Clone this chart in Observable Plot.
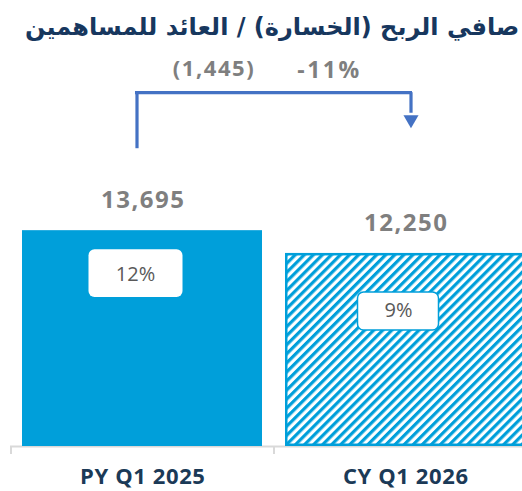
<!DOCTYPE html>
<html>
<head>
<meta charset="utf-8">
<script src="https://cdn.jsdelivr.net/npm/d3@7"></script>
<script src="https://cdn.jsdelivr.net/npm/@observablehq/plot@0.6"></script>
<style>
  html, body { margin: 0; padding: 0; background: #fff; overflow: hidden; }
  #title { height: 50px; box-sizing: border-box; padding-top: 9px; text-align: center;
    font-family: "DejaVu Sans", sans-serif; font-weight: bold; font-size: 24px; color: #17375E;
    direction: rtl; line-height: 36px; padding-left: 22px; white-space: nowrap; }
</style>
</head>
<body>
<div id="title">صافي الربح (الخسارة) / العائد للمساهمين</div>
<div id="chart"></div>
<script>
// ---- data ----
const categories = ["PY Q1 2025", "CY Q1 2026"];
const values = [13695, 12250];
const valueLabels = ["13,695", "12,250"];
const marginLabels = ["12%", "9%"];
const changeLabel = "(1,445)";
const changePctLabel = "-11%";

// ---- layout / style ----
const blue = "#009FDA";
const bracketBlue = "#4472C4";
const W = 522, H = 441, baseY = 396;
const xRange = [10, 536], padIn = 0.0875, padOut = 0.04375;
const step = (xRange[1] - xRange[0]) / (categories.length - padIn + 2 * padOut);
const bw = step * (1 - padIn);
const yMax = 25000;
// annotation positions (data units on y)
const bracketTop = 22450, bracketLeftBottom = 18800, bracketRightEnd = 21050, arrowY = 20750, changeY = 23950;

const rows = categories.map((c, i) => ({cat: c, value: values[i], label: valueLabels[i], pct: marginLabels[i], solid: i === 0}));

const boxStyle = [
  {insetLeft: 66.5, insetRight: 79.5, insetTop: 19, insetBottom: 149, stroke: "none", textDy: 44},
  {insetLeft: 72.5, insetRight: 86.5, insetTop: 39, insetBottom: 116, stroke: blue, textDy: 57}
];

const boxMarks = rows.flatMap((r, i) => [
  Plot.rectY([r], {x: "cat", y1: 0, y2: "value", fill: "white", stroke: boxStyle[i].stroke, strokeWidth: 1.5,
    rx: 6, insetLeft: boxStyle[i].insetLeft, insetRight: boxStyle[i].insetRight,
    insetTop: boxStyle[i].insetTop, insetBottom: boxStyle[i].insetBottom}),
  Plot.text([r], {x: "cat", y: "value", text: "pct", dx: -7, dy: boxStyle[i].textDy,
    fill: "#595959", fontSize: 20, fontFamily: "Open Sans"})
]);

const chart = Plot.plot({
  width: W, height: H,
  marginLeft: 10, marginRight: 0, marginTop: 0, marginBottom: H - baseY,
  x: {type: "band", domain: categories, range: xRange, paddingInner: padIn, paddingOuter: padOut, axis: null},
  y: {domain: [0, yMax], range: [baseY, baseY - yMax * 0.01576], axis: null},
  color: {type: "identity"},
  marks: [
    Plot.ruleY([0], {stroke: "#D9D9D9", strokeWidth: 2}),
    Plot.ruleX(categories, {x: d => d, y1: 0, y2: 0, dx: -step / 2, insetBottom: -8, stroke: "#D9D9D9", strokeWidth: 2}),
    Plot.barY(rows.filter(d => d.solid), {x: "cat", y: "value", fill: blue}),
    Plot.barY(rows.filter(d => !d.solid), {x: "cat", y: "value", fill: "url(#hatch)", stroke: blue, strokeWidth: 2.5, inset: 1.25}),
    ...boxMarks,
    Plot.text(rows, {x: "cat", y: "value", text: "label", dy: -30, dx: 0.75, fill: "#7F7F7F", fontSize: 24, fontWeight: "bold", fontFamily: "Open Sans"}),
    Plot.text(rows, {x: "cat", y: 0, text: "cat", dy: 30.5, dx: 0.3, fill: "#1B3A57", fontSize: 22, fontWeight: "bold", fontFamily: "Open Sans"}),
    // bracket
    Plot.ruleX([categories[0]], {x: d => d, y1: bracketLeftBottom, y2: bracketTop, dx: -5.5, insetTop: -1.5, stroke: bracketBlue, strokeWidth: 3.2}),
    Plot.ruleX([categories[1]], {x: d => d, y1: bracketRightEnd, y2: bracketTop, dx: 5.5, insetTop: -1.5, stroke: bracketBlue, strokeWidth: 3.2}),
    Plot.ruleY([bracketTop], {x1: () => categories[0], x2: () => categories[1], insetLeft: bw / 2 - 7, insetRight: bw / 2 - 7, stroke: bracketBlue, strokeWidth: 3.2}),
    Plot.dot([categories[1]], {x: d => d, y: arrowY, symbol: "triangle", rotate: 180, r: 5.6, dx: 5.5, fill: bracketBlue, stroke: "none"}),
    Plot.text([changeLabel], {x: () => categories[0], y: changeY, text: d => d, dx: 71.5, fill: "#7F7F7F", fontSize: 22, fontWeight: "bold", fontFamily: "Open Sans"}),
    Plot.text([changePctLabel], {x: () => categories[1], y: changeY, text: d => d, dx: -76, dy: 2, fill: "#7F7F7F", fontSize: 23, fontWeight: "bold", fontFamily: "Open Sans"})
  ]
});

const svg = d3.select(chart);
const defs = svg.insert("defs", ":first-child");
const pat = defs.append("pattern").attr("id", "hatch").attr("patternUnits", "userSpaceOnUse")
  .attr("width", 6.4).attr("height", 6.4).attr("patternTransform", "rotate(45)");
pat.append("rect").attr("width", 6.4).attr("height", 6.4).attr("fill", "white");
pat.append("rect").attr("width", 3.2).attr("height", 6.4).attr("fill", blue);

// letter spacing to match reference typography
const spacing = new Map([
  ...valueLabels.map(t => [t, 1.5]),
  ...categories.map(t => [t, 0.6]),
  [changeLabel, 1.6],
  [changePctLabel, 2.5]
]);
svg.selectAll("text").each(function() {
  const s = spacing.get(this.textContent);
  if (s) this.setAttribute("letter-spacing", s);
});
document.getElementById("chart").appendChild(chart);
</script>
</body>
</html>
